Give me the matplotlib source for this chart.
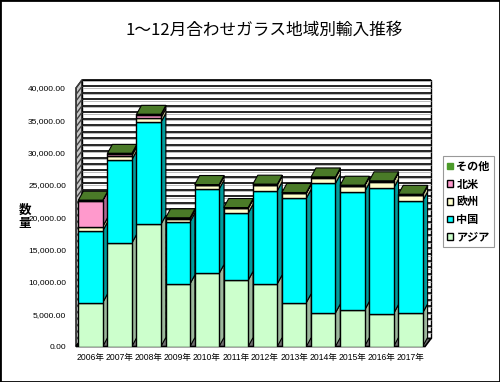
import matplotlib
matplotlib.use('Agg')
import matplotlib.pyplot as plt
from matplotlib.patches import Polygon, Rectangle, Patch

years = ['2006年', '2007年', '2008年', '2009年', '2010年', '2011年',
         '2012年', '2013年', '2014年', '2015年', '2016年', '2017年']
asia = [6800, 16000, 18900, 9700, 11300, 10250, 9700, 6800, 5200, 5600, 5100, 5200]
china = [11100, 12900, 15800, 9600, 13050, 10370, 14400, 16150, 20050, 18350, 19400, 17350]
europe = [670, 620, 710, 450, 600, 770, 900, 770, 870, 890, 1020, 880]
north_america = [4000, 300, 450, 100, 50, 50, 50, 50, 50, 50, 50, 50]
other = [60, 60, 60, 60, 60, 60, 60, 60, 60, 60, 60, 60]
series_names = ['アジア', '中国', '欧州', '北米', 'その他']
yticks = list(range(0, 40001, 5000))

front_colors = ['#ccffcc', '#00ffff', '#ffffcc', '#ff99cc', '#4c9a2a']
side_colors = ['#9cb89c', '#009c9c', '#c4c494', '#b06890', '#3a6420']
top_colors = ['#a8d8a8', '#00c8c8', '#d8d8a8', '#c878a8', '#4a7a28']

plt.rcParams['font.family'] = ['Liberation Sans', 'Noto Sans CJK JP']

fig = plt.figure(figsize=(5.0, 3.82), dpi=100)
ax = fig.add_axes([0.152, 0.0929, 0.698, 0.6767])
ax.set_xlim(-0.5, 11.5)
ax.set_ylim(0, 40000)
for s in ax.spines.values():
    s.set_visible(False)
ax.patch.set_visible(False)

# depth offsets (data units)
dxw, dyw = 0.206, 1240   # walls
dxb, dyb = 0.17, 1400    # bars
x0, x1 = -0.5, 11.5

# back wall
ax.add_patch(Polygon([(x0 + dxw, dyw), (x1 + dxw, dyw), (x1 + dxw, 40000 + dyw),
                      (x0 + dxw, 40000 + dyw)], closed=True, facecolor='white',
                     edgecolor='black', lw=1.0, zorder=0.5, clip_on=False))
# left wall
ax.add_patch(Polygon([(x0, 0), (x0 + dxw, dyw), (x0 + dxw, 40000 + dyw), (x0, 40000)],
                     closed=True, facecolor='#c8c8c8', edgecolor='black', lw=1.0,
                     zorder=0.6, clip_on=False))
# floor
ax.add_patch(Polygon([(x0, 0), (x1, 0), (x1 + dxw, dyw), (x0 + dxw, dyw)], closed=True,
                     facecolor='#707070', edgecolor='black', lw=1.2, zorder=0.7,
                     clip_on=False))
# gridlines
for v in range(1000, 40001, 1000):
    ax.plot([x0 + dxw, x1 + dxw], [v + dyw, v + dyw], color='black', lw=1.2,
            zorder=0.55, clip_on=False, solid_capstyle='butt')
    ax.plot([x0 + dxw, x1 + dxw], [v + dyw - 190, v + dyw - 190], color='#b0b0b0',
            lw=0.6, zorder=0.55, clip_on=False, solid_capstyle='butt')
    ax.plot([x0, x0 + dxw], [v, v + dyw], color='#404040', lw=1.0, zorder=0.65,
            clip_on=False)

series = [asia, china, europe, north_america, other]
width = 0.84
bottoms = [0] * len(years)
for k, vals in enumerate(series):
    ax.bar(range(len(years)), vals, width=width, bottom=bottoms,
           color=front_colors[k], edgecolor='black', lw=1.0, zorder=3)
    for i, v in enumerate(vals):
        b = bottoms[i]
        t = b + v
        xl, xr = i - width / 2, i + width / 2
        ax.add_patch(Polygon([(xr, b), (xr + dxb, b + dyb), (xr + dxb, t + dyb), (xr, t)],
                             closed=True, facecolor=side_colors[k], edgecolor='black',
                             lw=0.8, zorder=2, clip_on=False))
        if k == len(series) - 1:
            ax.add_patch(Polygon([(xl, t), (xr, t), (xr + dxb, t + dyb), (xl + dxb, t + dyb)],
                                 closed=True, facecolor=top_colors[k], edgecolor='black',
                                 lw=0.8, zorder=2, clip_on=False))
    bottoms = [bottoms[i] + vals[i] for i in range(len(years))]

ax.set_xticks(range(len(years)))
ax.set_xticklabels(years, fontsize=6.2)
ax.set_yticks(yticks)
ax.set_yticklabels([f'{v:,.2f}' for v in yticks], fontsize=6)
ax.tick_params(axis='y', length=0, pad=7.2)
ax.tick_params(axis='x', length=0, pad=5.0)

fig.text(0.528, 1 - 30 / 382, '1～12月合わせガラス地域別輸入推移', ha='center', va='center',
         fontsize=12, family=['Noto Sans CJK JP', 'DejaVu Sans'])
fig.text(25 / 500, 1 - 217 / 382, '数\n量', ha='center', va='center', fontsize=9,
         weight='bold', linespacing=1.05, family=['Noto Sans CJK JP'])

handles = [Patch(facecolor=front_colors[k], edgecolor='black' if k < 4 else front_colors[k],
                 lw=1.0) for k in range(4, -1, -1)]
labels = [series_names[k] for k in range(4, -1, -1)]
leg = fig.legend(handles, labels, loc='upper left', bbox_to_anchor=(443 / 500, 1 - 156 / 382),
                 prop={'family': ['Noto Sans CJK JP'], 'size': 8, 'weight': 'bold'},
                 frameon=True, fancybox=False, edgecolor='#808080', handlelength=0.55,
                 handleheight=0.55, handletextpad=0.3, labelspacing=0.42, borderpad=0.35,
                 borderaxespad=0)
leg.get_frame().set_linewidth(0.8)

fig.patches.append(Rectangle((0, 0), 1, 1, transform=fig.transFigure, fill=False,
                             edgecolor='black', lw=2))

fig.savefig('out.png', dpi=100)
